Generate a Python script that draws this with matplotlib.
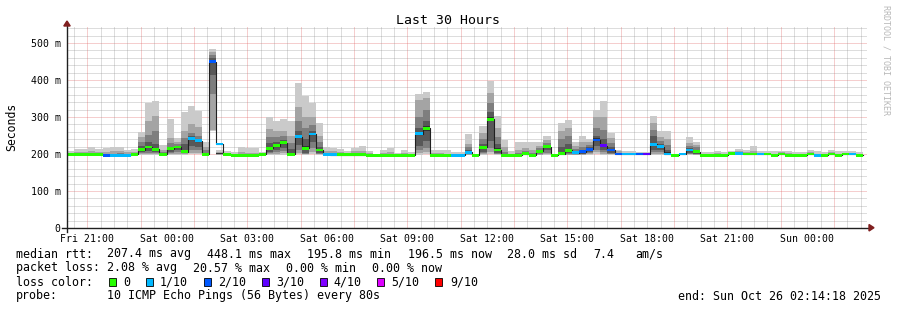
import numpy as np
import matplotlib
matplotlib.use("Agg")
import matplotlib.pyplot as plt
from matplotlib.patches import Rectangle, Polygon

# ---------------- data (16-minute consolidated steps, 10 pings each) ----------------
STEP_MIN = 16
START_HOUR = 20 + 14 / 60 + 18 / 3600   # Fri 20:14:18

loss = [0,0,0,0,0,2,1,1,1,0,
        0,0,0,0,0,0,0,1,1,0,
        2,1,0,0,0,0,0,0,0,0,
        0,0,1,0,1,0,1,1,0,0,
        0,0,0,0,0,0,0,0,0,1,
        0,0,0,0,1,1,1,0,0,0,
        0,0,0,0,0,0,0,0,0,0,
        0,1,2,2,2,3,2,2,1,1,
        2,3,1,1,1,0,1,1,0,0,
        0,0,0,0,1,0,0,1,0,0,
        0,0,0,0,0,1,0,0,0,0,
        1,0]

median = [199,199,199,199,199,197,197,197,197,199,
          212,219,213,199,214,219,206,241,236,199,
          449,227,199,196,196,196,196,199,215,222,
          231,199,247,215,254,211,199,198,198,198,
          198,198,196,196,196,196,196,196,196,255,
          269,196,196,196,196,196,205,196,218,294,
          211,196,196,196,201,196,207,220,196,201,
          210,204,206,213,238,222,211,200,200,200,
          200,200,226,220,200,196,200,211,206,196,
          196,196,196,202,202,200,200,200,200,196,
          200,196,196,196,200,196,196,200,196,200,
          200,196]

ping1 = [196,196,196,196,196,195,195,195,195,196,
         198,198,198,196,198,198,198,199,200,196,
         262,197,196,195,195,195,195,196,198,198,
         198,196,199,197,199,197,196,196,196,196,
         196,196,195,195,195,195,195,195,195,198,
         199,195,195,195,195,195,197,195,198,200,
         197,195,195,195,196,195,197,198,195,196,
         197,197,197,197,200,198,197,196,196,196,
         196,196,198,198,196,195,196,197,197,195,
         195,195,195,197,197,196,196,196,196,195,
         196,195,195,195,196,195,195,196,195,196,
         196,195]
ping2 = [197,197,197,197,197,196,196,196,196,197,
         200,200,200,197,200,201,200,203,204,197,
         265,198,197,195,195,195,195,197,200,201,
         202,197,204,199,205,199,197,197,197,197,
         197,197,195,195,195,195,195,195,195,202,
         205,195,195,195,195,195,198,195,200,206,
         199,195,195,195,197,195,198,200,195,196,
         198,198,198,199,205,201,199,197,197,197,
         197,197,201,201,197,195,197,199,198,195,
         195,195,195,198,198,197,197,197,197,195,
         197,195,195,195,197,195,195,197,195,197,
         197,195]
ping3 = [198,198,198,198,198,196,196,196,196,198,
         202,203,202,198,202,205,202,210,210,198,
         362,199,198,196,196,196,196,198,202,205,
         207,198,212,201,215,201,198,197,197,197,
         197,197,196,196,196,196,196,196,196,210,
         215,196,196,196,196,196,199,196,202,215,
         201,196,196,196,198,196,200,204,196,197,
         199,199,199,202,212,205,201,198,198,198,
         198,198,205,205,198,196,198,201,199,196,
         196,196,196,199,199,198,198,198,198,196,
         198,196,196,196,198,196,196,198,196,198,
         198,196]
ping4 = [198,198,198,198,198,197,197,197,197,198,
         205,208,205,198,206,210,202,222,220,198,
         413,200,198,196,196,196,196,198,205,210,
         215,199,225,204,232,204,198,198,198,198,
         198,198,196,196,196,196,196,196,196,222,
         235,196,196,196,196,196,200,196,206,235,
         203,196,196,196,199,196,202,210,196,198,
         202,200,201,206,222,210,204,198,198,198,
         198,198,212,210,199,196,198,204,201,196,
         196,196,196,200,200,198,198,198,198,196,
         198,196,196,196,198,196,196,198,196,198,
         198,196]
ping5 = [199,199,199,199,199,197,197,197,197,199,
         210,216,210,199,212,217,204,238,234,199,
         445,201,199,196,196,196,196,199,211,218,
         228,200,243,210,251,208,199,198,198,198,
         198,198,196,196,196,196,196,196,196,251,
         263,196,196,196,196,196,203,196,214,288,
         207,196,196,196,200,196,205,218,196,199,
         206,202,204,211,234,218,208,199,199,199,
         199,199,222,218,200,196,199,208,204,196,
         196,196,196,201,201,199,199,199,199,196,
         199,196,196,196,199,196,196,199,196,199,
         199,196]
ping6 = [200,200,200,200,200,198,198,198,198,200,
         214,222,216,200,216,221,209,244,238,200,
         452,202,200,197,197,197,197,200,220,226,
         234,204,251,222,257,214,200,199,199,199,
         199,199,197,197,197,197,197,197,197,259,
         275,197,197,197,197,197,208,197,222,300,
         215,197,197,197,202,197,209,222,197,206,
         214,206,208,215,242,226,214,201,200,200,
         200,200,230,223,205,197,200,214,208,197,
         197,197,197,203,203,200,200,200,200,197,
         200,197,197,197,200,197,197,200,197,200,
         200,197]
ping7 = [201,201,201,201,201,199,199,199,199,201,
         222,232,228,202,220,222,228,248,240,203,
         460,203,201,197,197,197,197,201,230,232,
         238,214,262,240,262,220,201,200,200,200,
         200,200,197,197,197,197,197,197,197,270,
         290,197,197,197,197,197,212,197,228,314,
         228,199,197,198,204,198,212,225,197,220,
         228,208,212,218,250,240,220,202,201,201,
         201,201,248,228,212,197,201,216,212,197,
         197,197,197,204,204,201,201,201,201,197,
         201,197,197,197,201,197,197,201,197,201,
         201,197]
ping8 = [202,202,202,203,202,201,201,202,201,202,
         232,251,262,205,229,226,244,258,250,210,
         468,204,202,198,199,198,198,202,247,245,
         248,230,290,270,278,232,203,202,202,201,
         202,202,198,198,198,199,198,198,198,300,
         320,198,198,198,198,198,218,198,240,337,
         245,205,198,202,208,202,216,230,198,240,
         248,214,220,224,270,265,230,204,202,202,
         202,202,265,235,225,198,202,222,218,198,
         198,198,198,205,205,202,203,202,202,198,
         202,198,198,198,202,198,198,202,198,202,
         202,198]
ping9 = [204,205,206,208,206,206,207,208,205,206,
         246,289,303,210,244,232,262,280,273,220,
         476,206,204,200,205,203,203,203,267,262,
         262,250,328,300,300,250,208,207,206,204,
         207,208,202,199,202,205,200,202,200,346,
         352,202,202,201,200,200,227,199,257,364,
         270,220,201,212,216,212,222,238,199,262,
         270,222,232,232,300,300,242,207,204,204,
         203,203,283,245,240,199,203,230,224,201,
         201,202,201,206,208,205,208,204,204,201,
         205,202,201,201,205,201,201,205,201,204,
         204,201]
ping10 = [209,213,213,220,213,216,218,220,210,213,
          260,337,343,224,295,242,314,330,317,233,
          484,210,208,206,220,215,216,205,301,290,
          295,289,393,357,339,283,220,217,214,209,
          217,221,209,200,211,217,204,212,206,361,
          368,212,212,210,206,206,254,200,276,397,
          303,238,208,233,233,233,233,249,200,283,
          292,232,249,240,319,344,256,212,207,207,
          205,205,303,262,262,200,204,247,232,205,
          205,209,205,209,214,212,222,207,207,207,
          209,209,205,205,210,207,205,211,207,207,
          207,205]

loss_levels = [0, 1, 2, 3, 4, 5, 9]
loss_labels = ["0", "1/10", "2/10", "3/10", "4/10", "5/10", "9/10"]
loss_colors = ["#26ff00", "#00b8ff", "#0059ff", "#5e00ff", "#7e00ff", "#dd00ff", "#ff0000"]
smoke_colors = ["#cacaca", "#a4a4a4", "#7e7e7e", "#585858", "#323232"]

x_labels = ["Fri 21:00", "Sat 00:00", "Sat 03:00", "Sat 06:00", "Sat 09:00",
            "Sat 12:00", "Sat 15:00", "Sat 18:00", "Sat 21:00", "Sun 00:00"]
y_ticks = [0, 100, 200, 300, 400, 500]
y_labels = ["0", "100 m", "200 m", "300 m", "400 m", "500 m"]

stats_rtt = ["207.4 ms avg", "448.1 ms max", "195.8 ms min", "196.5 ms now", "28.0 ms sd", "7.4", "am/s"]
stats_loss = ["2.08 % avg", "20.57 % max", "0.00 % min", "0.00 % now"]
probe_text = "10 ICMP Echo Pings (56 Bytes) every 80s"
end_text = "end: Sun Oct 26 02:14:18 2025"

# ---------------- figure ----------------
W, H = 897, 310
MONO = "DejaVu Sans Mono"
fig = plt.figure(figsize=(W / 100, H / 100), dpi=100)
fig.patch.set_facecolor("white")

def fx(x):
    return x / W

def fy(y):
    return 1 - y / H

TOTAL_H = 30.0
YMAX = 546
ax = fig.add_axes([fx(67), fy(228), 800 / W, 202 / H])
ax.set_xlim(0, TOTAL_H)
ax.set_ylim(0, YMAX)
for s in ax.spines.values():
    s.set_visible(False)
ax.set_facecolor("white")

# grid
dot = (0, (1, 1))
grid_col = (0.56, 0.56, 0.56, 0.6)
mgrid_col = (0.87, 0.31, 0.31, 0.55)
for yv in range(20, YMAX, 20):
    if yv % 100 == 0:
        ax.axhline(yv, color=mgrid_col, lw=0.72, ls=dot, zorder=1)
    else:
        ax.axhline(yv, color=grid_col, lw=0.72, ls=dot, zorder=1)
first_label = 21 - START_HOUR
n = 0
while True:
    t = first_label - 0.5 + 0.5 * n
    if t >= TOTAL_H:
        break
    is_major = (n - 1) % 4 == 0
    ax.axvline(t, color=mgrid_col if is_major else grid_col, lw=0.72, ls=dot, zorder=1)
    n += 1

# smoke
nstep = len(median)
t_edges = np.arange(nstep + 1) * STEP_MIN / 60.0
pings = np.array([ping1, ping2, ping3, ping4, ping5, ping6, ping7, ping8, ping9, ping10], dtype=float)
for i in range(5):
    lo = np.append(pings[i], pings[i][-1])
    hi = np.append(pings[9 - i], pings[9 - i][-1])
    ax.fill_between(t_edges, lo, hi, step="post", color=smoke_colors[i], lw=0, zorder=2)

# median line
med = np.array(median, dtype=float)
ax.step(t_edges, np.append(med, med[-1]), where="post", color="#202020", lw=0.8, zorder=3)

# loss colored median bands
sw = 3.8
cmap = dict(zip(loss_levels, loss_colors))
ax.bar(t_edges[:-1], 2 * sw, bottom=med - sw, width=STEP_MIN / 60.0, align="edge",
       color=[cmap[l] for l in loss], lw=0, zorder=4)

# ticks
ax.set_xticks([first_label + 3 * i for i in range(len(x_labels))])
ax.set_xticklabels(x_labels, fontfamily=MONO, fontsize=7.1)
ax.set_yticks(y_ticks)
ax.set_yticklabels(y_labels, fontfamily=MONO, fontsize=7.1)
ax.tick_params(axis="x", length=0, pad=4.5)
ax.tick_params(axis="y", length=0, pad=4.5)

# axes with arrows
ax.plot([-0.006, 1.004], [0, 0], transform=ax.transAxes, color="#1f1f1f", lw=1, clip_on=False, zorder=6)
ax.plot([0, 0], [-0.02, 1.005], transform=ax.transAxes, color="#1f1f1f", lw=1, clip_on=False, zorder=6)
fig.patches.append(Polygon([(fx(869), fy(224.5)), (fx(869), fy(231)), (fx(874), fy(227.7))],
                           closed=True, transform=fig.transFigure, color="#801f1f"))
fig.patches.append(Polygon([(fx(63.8), fy(26)), (fx(70.2), fy(26)), (fx(67), fy(21))],
                           closed=True, transform=fig.transFigure, color="#801f1f"))

# titles
fig.text(fx(448), fy(20), "Last 30 Hours", fontfamily=MONO, fontsize=9.5, ha="center", va="center")
fig.text(fx(12), fy(127), "Seconds", fontfamily=MONO, fontsize=8.3, rotation=90, ha="center", va="center")
fig.text(fx(886), fy(5), "RRDTOOL / TOBI OETIKER", fontfamily=MONO, fontsize=6, rotation=270,
         ha="center", va="top", color="#b8b8b8")

# legend
LF = 8.4
def ltext(x, y, s, ha="left"):
    fig.text(fx(x), fy(y), s, fontfamily=MONO, fontsize=LF, ha=ha, va="center")

ltext(16, 254, "median rtt:")
for xx, s in zip([107, 207, 307, 408, 507, 593, 635], stats_rtt):
    ltext(xx, 254, s)
ltext(16, 268, "packet loss:")
for xx, s in zip([107, 193, 286, 372], stats_loss):
    ltext(xx, 268, s)
ltext(16, 282, "loss color:")
box_x = [109, 146, 203.5, 261.5, 319.5, 377, 435]
lab_x = [123, 160, 218, 276, 333.5, 391.5, 450]
for bx, lx, c, lab in zip(box_x, lab_x, loss_colors, loss_labels):
    fig.patches.append(Rectangle((fx(bx), fy(285.5)), 7 / W, 7.5 / H, transform=fig.transFigure,
                                 facecolor=c, edgecolor="black", lw=0.6))
    ltext(lx, 282, lab)
ltext(16, 296, "probe:")
ltext(107, 296, probe_text)
ltext(881, 296, end_text, ha="right")

fig.savefig("out.png", dpi=100, facecolor="white")
